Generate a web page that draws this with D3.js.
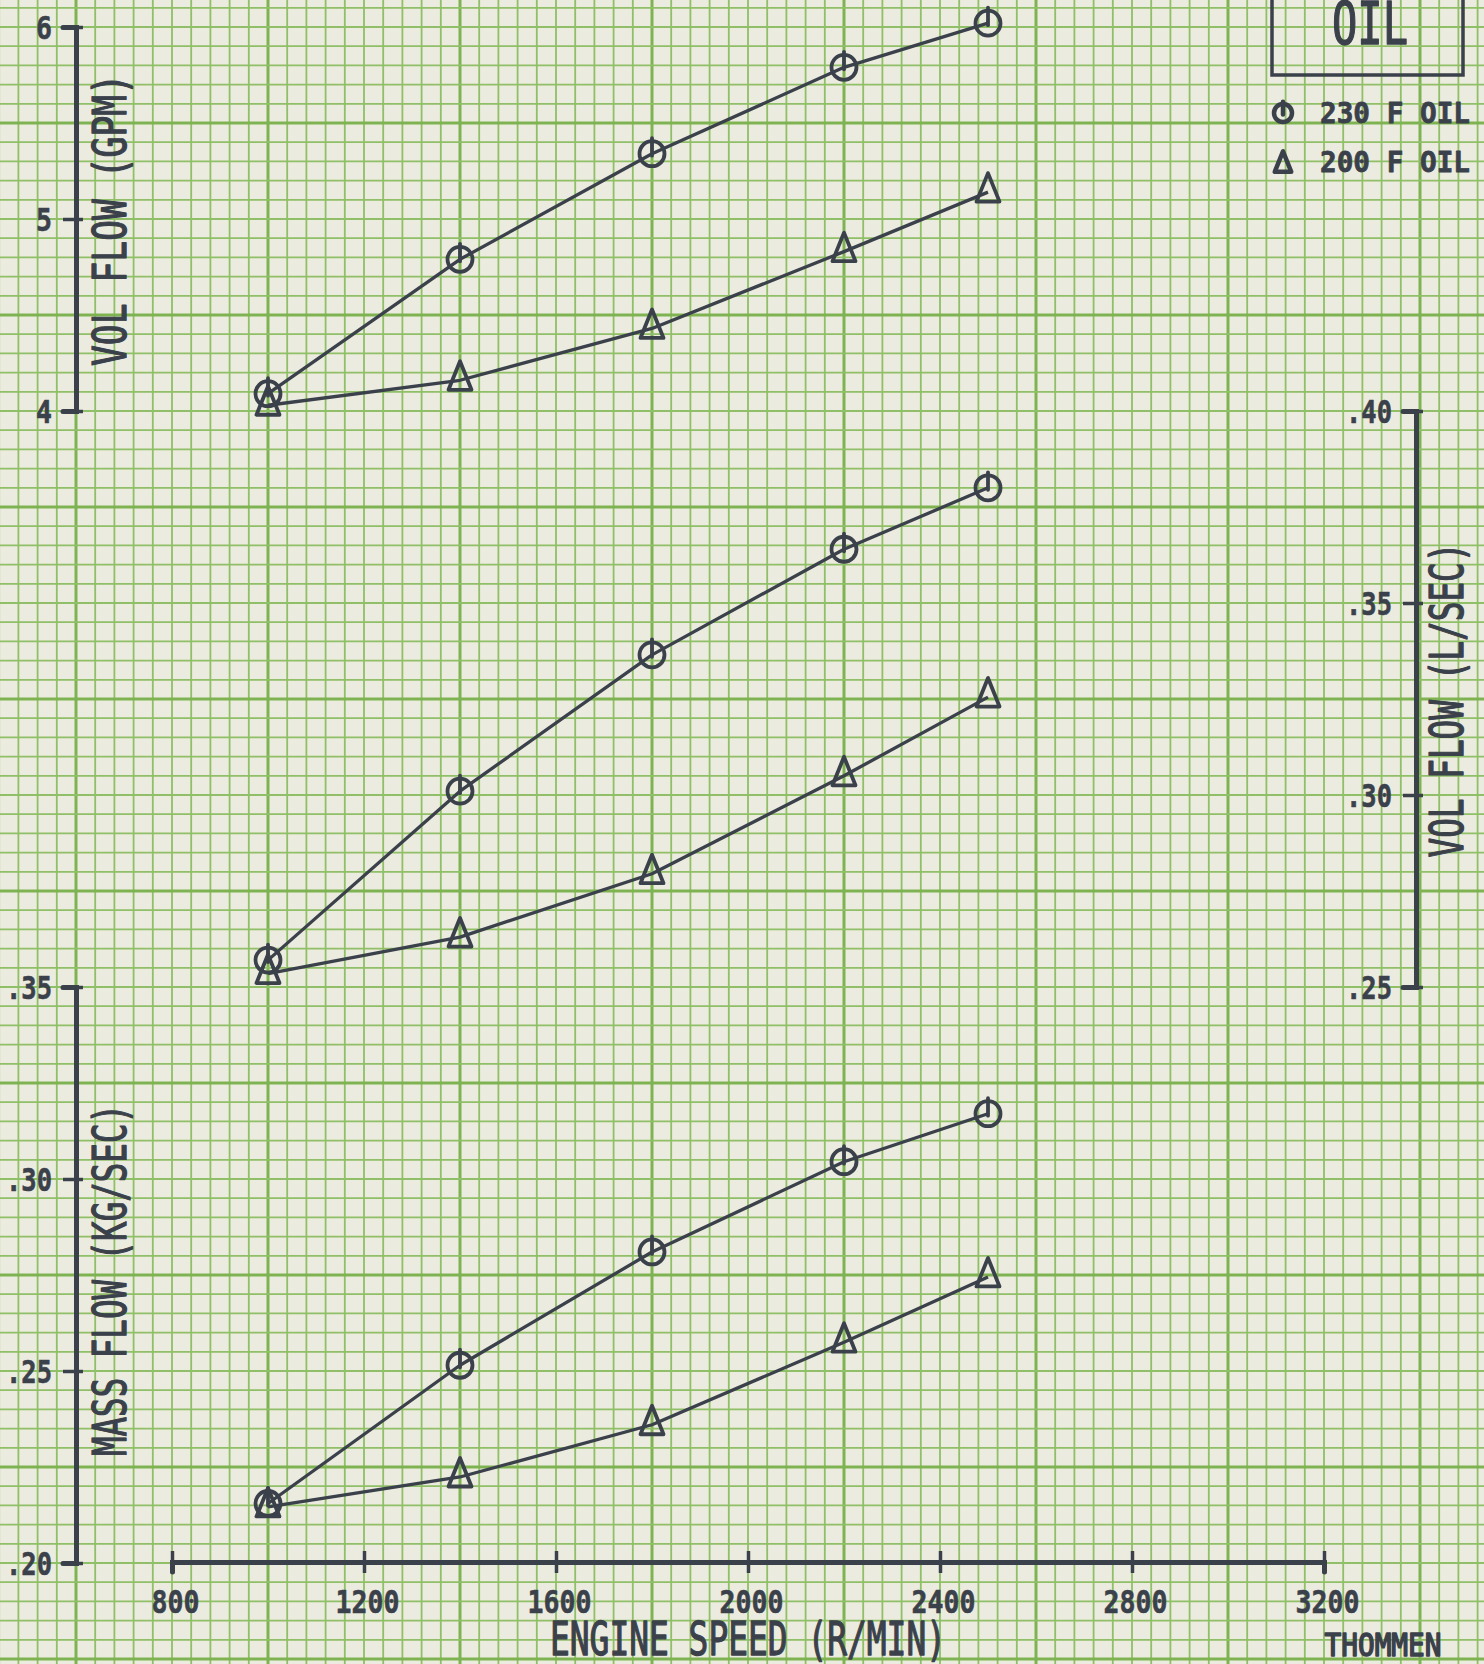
<!DOCTYPE html>
<html>
<head>
<meta charset="utf-8">
<script src="https://cdn.jsdelivr.net/npm/d3@7"></script>
<style>
  html, body { margin: 0; padding: 0; background: #ecebdf; }
  svg { display: block; }
  text { font-family: "DejaVu Sans Mono", "Liberation Mono", monospace; fill: #3b414b; }
</style>
</head>
<body>
<svg id="chart" width="1484" height="1664"></svg>
<script>
// Engine speed at which flow was measured (R/MIN)
const rpm = [1000, 1400, 1800, 2200, 2500];

// Volumetric flow, gallons per minute
const gpm230 = [4.09, 4.79, 5.34, 5.79, 6.02];
const gpm200 = [4.03, 4.16, 4.43, 4.83, 5.14];

// Volumetric flow, litres per second
const lps230 = [0.257, 0.301, 0.3365, 0.364, 0.380];
const lps200 = [0.2535, 0.263, 0.2795, 0.305, 0.3255];

// Mass flow, kilograms per second
const kgs230 = [0.2155, 0.2515, 0.281, 0.3045, 0.317];
const kgs200 = [0.2146, 0.2224, 0.236, 0.2575, 0.2745];

// Tick values for each scale
const rpmTicks = [800, 1200, 1600, 2000, 2400, 2800, 3200];
const gpmTicks = [4, 5, 6];
const lpsTicks = [0.25, 0.30, 0.35, 0.40];
const kgsTicks = [0.20, 0.25, 0.30, 0.35];

// Legend entries
const legendTitle = "OIL";
const legendLabels = ["230 F OIL", "200 F OIL"];

const W = 1484, H = 1664;
const INK = "#3b414b";
const svg = d3.select("#chart");

// ---- graph paper ----
const cell = 19.2;            // one small square
const gx0 = 76, gy0 = 123;    // a heavy line crossing
const paper = svg.append("g");
paper.append("rect").attr("width", W).attr("height", H).attr("fill", "#ecebdf");
const vLines = d3.range(-4, 80).map(k => ({ p: gx0 + k * cell, heavy: ((k % 10) + 10) % 10 === 0 }))
  .filter(d => d.p > -3 && d.p < W + 3);
const hLines = d3.range(-7, 90).map(k => ({ p: gy0 + k * cell, heavy: ((k % 10) + 10) % 10 === 0 }))
  .filter(d => d.p > -3 && d.p < H + 3);
paper.selectAll("line.v").data(vLines).join("line")
  .attr("x1", d => d.p).attr("x2", d => d.p).attr("y1", 0).attr("y2", H)
  .attr("stroke", d => d.heavy ? "#7fb352" : "#8fbf66")
  .attr("stroke-width", d => d.heavy ? 3 : 1.8);
paper.selectAll("line.h").data(hLines).join("line")
  .attr("x1", 0).attr("x2", W).attr("y1", d => d.p).attr("y2", d => d.p)
  .attr("stroke", d => d.heavy ? "#7fb352" : "#8fbf66")
  .attr("stroke-width", d => d.heavy ? 3 : 1.8);

// ---- scales ----
const x = d3.scaleLinear().domain([800, 3200]).range([172, 1324]);
const yGpm = d3.scaleLinear().domain([4, 6]).range([411, 27]);
const yLps = d3.scaleLinear().domain([0.25, 0.40]).range([987, 411]);
const yKgs = d3.scaleLinear().domain([0.20, 0.35]).range([1563, 987]);

const decimal = d => d3.format(".2f")(d).replace(/^0/, "");

// lettering-guide look: condensed, with a little extra ink on the strokes
function inked(sel, weight) {
  return sel.attr("stroke", INK).attr("stroke-width", weight).attr("stroke-linejoin", "round");
}

function styleAxis(g, labelLen) {
  g.select(".domain").attr("stroke", INK).attr("stroke-width", 5).attr("stroke-linecap", "round");
  g.selectAll(".tick line").attr("stroke", INK).attr("stroke-width", 3.5);
  const t = g.selectAll(".tick text")
    .style("font-family", "'DejaVu Sans Mono', monospace")
    .style("font-weight", "bold")
    .attr("fill", INK)
    .attr("font-size", 32)
    .attr("textLength", labelLen)
    .attr("lengthAdjust", "spacingAndGlyphs");
  inked(t, 0.6);
}

function verticalAxis(scale, ticks, fmt, xPos) {
  const g = svg.append("g").attr("transform", `translate(${xPos},0)`)
    .call(d3.axisLeft(scale).tickValues(ticks).tickFormat(fmt).tickSizeOuter(0).tickSize(13).tickPadding(0));
  g.selectAll(".tick line").attr("x2", -13).attr("x1", 7);
  g.selectAll(".tick text").attr("x", -24).attr("dy", "0.36em").attr("text-anchor", "end");
  styleAxis(g, d => fmt(d).length === 1 ? 16 : 46);
  return g;
}

verticalAxis(yGpm, gpmTicks, d3.format("d"), 76);
verticalAxis(yKgs, kgsTicks, decimal, 76);
verticalAxis(yLps, lpsTicks, decimal, 1416);

const xAxis = svg.append("g").attr("transform", "translate(0,1562)")
  .call(d3.axisBottom(x).tickValues(rpmTicks).tickFormat(d3.format("d")).tickSizeOuter(0).tickSize(10));
xAxis.selectAll(".tick line").attr("y1", -11).attr("y2", 11);
xAxis.selectAll(".tick text").attr("y", 51).attr("dy", 0).attr("x", 3).attr("text-anchor", "middle");
styleAxis(xAxis, d => String(d).length * 16);

// ---- axis titles ----
function title(txt, tx, ty, rot, size, len, weight) {
  const t = svg.append("text")
    .attr("transform", `translate(${tx},${ty}) rotate(${rot})`)
    .attr("text-anchor", "middle")
    .attr("font-size", size)
    .attr("textLength", len)
    .attr("lengthAdjust", "spacingAndGlyphs")
    .text(txt);
  inked(t, weight);
}
title("VOL FLOW (GPM)", 126, 220, -90, 46, 292, 1.3);
title("MASS FLOW (KG/SEC)", 126, 1280, -90, 46, 352, 1.3);
title("VOL FLOW (L/SEC)", 1463, 700, -90, 46, 315, 1.3);
title("ENGINE SPEED (R/MIN)", 748, 1655, 0, 46, 396, 1.3);
title("THOMMEN", 1383, 1656, 0, 32, 117, 1.6);

// ---- curves ----
const series = [
  { y: yGpm, values: gpm230, mark: "circle" },
  { y: yGpm, values: gpm200, mark: "triangle" },
  { y: yLps, values: lps230, mark: "circle" },
  { y: yLps, values: lps200, mark: "triangle" },
  { y: yKgs, values: kgs230, mark: "circle" },
  { y: yKgs, values: kgs200, mark: "triangle" }
];

const plot = svg.append("g");
series.forEach(s => {
  const pts = rpm.map((r, i) => [x(r), s.y(s.values[i])]);
  plot.append("path")
    .attr("d", d3.line()(pts))
    .attr("fill", "none")
    .attr("stroke", INK)
    .attr("stroke-width", 3.3)
    .attr("stroke-linejoin", "round");
});

function drawMark(g, kind, cx, cy, size, sw) {
  if (kind === "circle") {
    g.append("circle").attr("cx", cx).attr("cy", cy).attr("r", 12.5 * size)
      .attr("fill", "none").attr("stroke", INK).attr("stroke-width", sw);
    g.append("line").attr("x1", cx).attr("x2", cx)
      .attr("y1", cy - 15.5 * size).attr("y2", cy + 2 * size)
      .attr("stroke", INK).attr("stroke-width", sw).attr("stroke-linecap", "round");
  } else {
    const tri = [[0, -19], [-11.5, 9.5], [11.5, 9.5]].map(([a, b]) => [cx + a * size, cy + b * size]);
    g.append("path").attr("d", d3.line()(tri) + "Z")
      .attr("fill", "none").attr("stroke", INK).attr("stroke-width", sw)
      .attr("stroke-linejoin", "round");
  }
}

series.forEach(s => {
  rpm.forEach((r, i) => drawMark(plot, s.mark, x(r), s.y(s.values[i]), 1, 3.8));
});

// ---- legend ----
const legend = svg.append("g");
legend.append("rect").attr("x", 1272).attr("y", -20).attr("width", 191).attr("height", 95)
  .attr("fill", "none").attr("stroke", INK).attr("stroke-width", 3.5);
inked(legend.append("text").attr("x", 1370).attr("y", 44).attr("text-anchor", "middle")
  .attr("font-size", 58).attr("textLength", 76).attr("lengthAdjust", "spacingAndGlyphs")
  .text(legendTitle), 1.4);
const marks = ["circle", "triangle"];
legendLabels.forEach((lab, i) => {
  const cy = 113 + i * 49;
  drawMark(legend, marks[i], 1283, marks[i] === "circle" ? cy : cy + 3, 0.72, 4.5);
  inked(legend.append("text").attr("x", 1320).attr("y", cy + 10)
    .style("font-weight", "bold")
    .attr("font-size", 29).attr("textLength", 150).attr("lengthAdjust", "spacingAndGlyphs")
    .text(lab), 0.8);
});
</script>
</body>
</html>
